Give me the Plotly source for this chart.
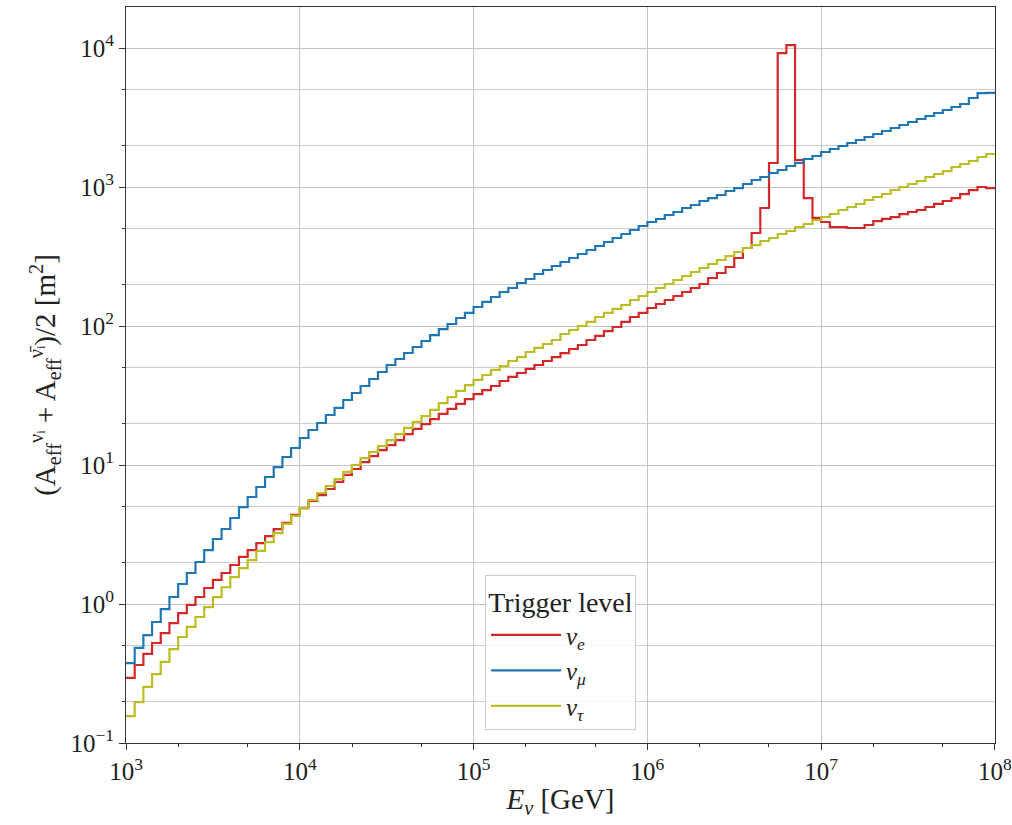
import numpy as np
import plotly.graph_objects as go

# 20 log-spaced bins per decade between 1e3 and 1e8 GeV
BIN_EDGES = np.logspace(3, 8, 101)

nu_e = [0.294, 0.364, 0.437, 0.524, 0.618, 0.729, 0.861, 0.984, 1.123, 1.303,
        1.489, 1.671, 1.908, 2.18, 2.445, 2.745, 3.08, 3.46, 3.83, 4.37,
        4.90, 5.51, 6.08, 6.72, 7.55, 8.48, 9.36, 10.5, 11.6, 12.8,
        13.9, 15.1, 16.7, 18.2, 19.7, 21.4, 23.3, 25.3, 27.5, 29.8,
        32.4, 34.6, 37.0, 40.2, 43.0, 45.9, 49.1, 52.4, 56.0, 59.8,
        63.9, 68.3, 73.0, 79.3, 84.8, 92.0, 98.4, 106.9, 116.1, 124.1,
        134.7, 144.0, 153.8, 164.4, 175.7, 187.7, 200.6, 221.5, 240.6, 265.8,
        308.4, 364.1, 466.8, 706.0, 1488, 9200, 10500, 1563, 833, 599,
        560, 515, 515, 507, 507, 533, 569, 589, 608, 639,
        661, 683, 718, 755, 793, 833, 890, 951, 1000, 983]

nu_mu = [0.376, 0.483, 0.598, 0.742, 0.920, 1.123, 1.393, 1.671, 2.005, 2.445,
         2.935, 3.464, 4.156, 4.985, 5.886, 6.945, 8.197, 9.67, 11.42, 13.25,
         15.64, 17.86, 20.06, 22.89, 25.72, 29.35, 32.96, 37.01, 41.56, 46.68,
         52.42, 57.88, 63.93, 70.6, 78.0, 86.1, 95.1, 103.4, 114.2, 124.1,
         137.0, 148.9, 161.7, 175.7, 187.7, 203.9, 217.8, 236.7, 252.9, 270.2,
         288.7, 308.4, 329.6, 352.2, 376.2, 402.0, 429.6, 459.0, 490.5, 524.2,
         560.1, 588.6, 628.9, 660.8, 706.1, 742.0, 793, 833, 876, 936,
         983, 1051, 1123, 1180, 1261, 1325, 1416, 1488, 1590, 1671,
         1786, 1877, 1972, 2073, 2178, 2289, 2406, 2529, 2657, 2793,
         2935, 3084, 3242, 3407, 3581, 3763, 3955, 4370, 4740, 4750]

nu_tau = [0.156, 0.197, 0.253, 0.313, 0.383, 0.474, 0.579, 0.684, 0.806, 0.951,
          1.12, 1.32, 1.56, 1.81, 2.07, 2.41, 2.79, 3.24, 3.77, 4.30,
          4.90, 5.60, 6.29, 7.06, 7.93, 8.91, 10.0, 11.2, 12.4, 13.7,
          15.1, 16.7, 18.5, 20.4, 22.5, 24.9, 27.9, 30.8, 34.1, 37.6,
          40.9, 44.4, 48.3, 51.5, 56.0, 59.8, 65.0, 69.5, 74.2, 79.3,
          87.6, 93.6, 100.0, 106.9, 116.1, 124.1, 132.6, 141.6, 153.8, 164.4,
          175.7, 187.7, 200.6, 214.2, 228.9, 244.6, 261.4, 279.3, 298.4, 318.9,
          340.8, 364.1, 382.4, 408.8, 429.6, 459.0, 482.5, 515.5, 541.7, 578.8,
          608.3, 639.3, 683.1, 718.0, 754.6, 806.2, 847.5, 890.5, 951.4, 1000,
          1051, 1105, 1180, 1240, 1303, 1393, 1464, 1539, 1644, 1728]

series_names = ["<i>ν</i><sub><i>e</i></sub>", "<i>ν</i><sub><i>μ</i></sub>", "<i>ν</i><sub><i>τ</i></sub>"]
series_colors = ["#d62728", "#1f77b4", "#bcbd22"]

x_tickvals = [1e3, 1e4, 1e5, 1e6, 1e7, 1e8]
x_ticktext = ["10<sup>3</sup>", "10<sup>4</sup>", "10<sup>5</sup>", "10<sup>6</sup>", "10<sup>7</sup>", "10<sup>8</sup>"]
y_tickvals = [1e-1, 1e0, 1e1, 1e2, 1e3, 1e4]
y_ticktext = ["10<sup>−1</sup>", "10<sup>0</sup>", "10<sup>1</sup>", "10<sup>2</sup>", "10<sup>3</sup>", "10<sup>4</sup>"]

FONT = "Liberation Serif"

fig = go.Figure()
for vals, name, color in zip([nu_e, nu_mu, nu_tau], series_names, series_colors):
    xs = list(BIN_EDGES)
    ys = list(vals) + [vals[-1]]
    fig.add_trace(go.Scatter(x=xs, y=ys, mode="lines", name=name,
                             line=dict(color=color, width=2.2, shape="hv")))

fig.update_layout(
    width=1012, height=825,
    margin=dict(l=126, r=17, t=7, b=82, autoexpand=False),
    paper_bgcolor="white", plot_bgcolor="white",
    font=dict(family=FONT, color="#222222", size=24),
    legend=dict(
        title=dict(text="Trigger level", font=dict(size=28, family=FONT), side="top center"),
        x=0.5, xanchor="center", y=0.018, yanchor="bottom",
        bgcolor="rgba(255,255,255,0.85)", bordercolor="#cccccc", borderwidth=1,
        font=dict(size=25, family=FONT), itemwidth=70,
    ),
)

fig.update_xaxes(
    type="log", range=[3, 8.0004],
    tickvals=x_tickvals, ticktext=x_ticktext,
    tickfont=dict(size=25, family=FONT), ticklabeloverflow="allow",
    ticks="outside", ticklen=6, tickcolor="#333333",
    showline=True, linecolor="#333333", linewidth=1, mirror=True,
    showgrid=True, gridcolor="#c4c4c4", gridwidth=1,
    minor=dict(ticks="outside", ticklen=3, tickcolor="#333333", showgrid=False),
    title=dict(text="<i>E</i><sub><i>ν</i></sub> [GeV]", font=dict(size=29, family=FONT), standoff=4),
    zeroline=False, automargin=False,
)
fig.update_yaxes(
    type="log", range=[-1, 4.295],
    tickvals=y_tickvals, ticktext=y_ticktext,
    tickfont=dict(size=25, family=FONT), ticklabeloverflow="allow",
    ticks="outside", ticklen=6, tickcolor="#333333",
    showline=True, linecolor="#333333", linewidth=1, mirror=True,
    showgrid=True, gridcolor="#c4c4c4", gridwidth=1,
    minor=dict(ticks="outside", ticklen=3, tickcolor="#333333", showgrid=True,
               gridcolor="#cccccc", gridwidth=1),
    title=dict(text="(A<sub>eff</sub><sup>νᵢ</sup> + A<sub>eff</sub><sup>ν̄ᵢ</sup>)/2 [m<sup>2</sup>]",
               font=dict(size=29, family=FONT), standoff=6),
    zeroline=False, automargin=False,
)

fig.write_html("out.html", config={"displayModeBar": False},
               post_script="document.body.style.margin='0';document.body.style.overflow='hidden';")
